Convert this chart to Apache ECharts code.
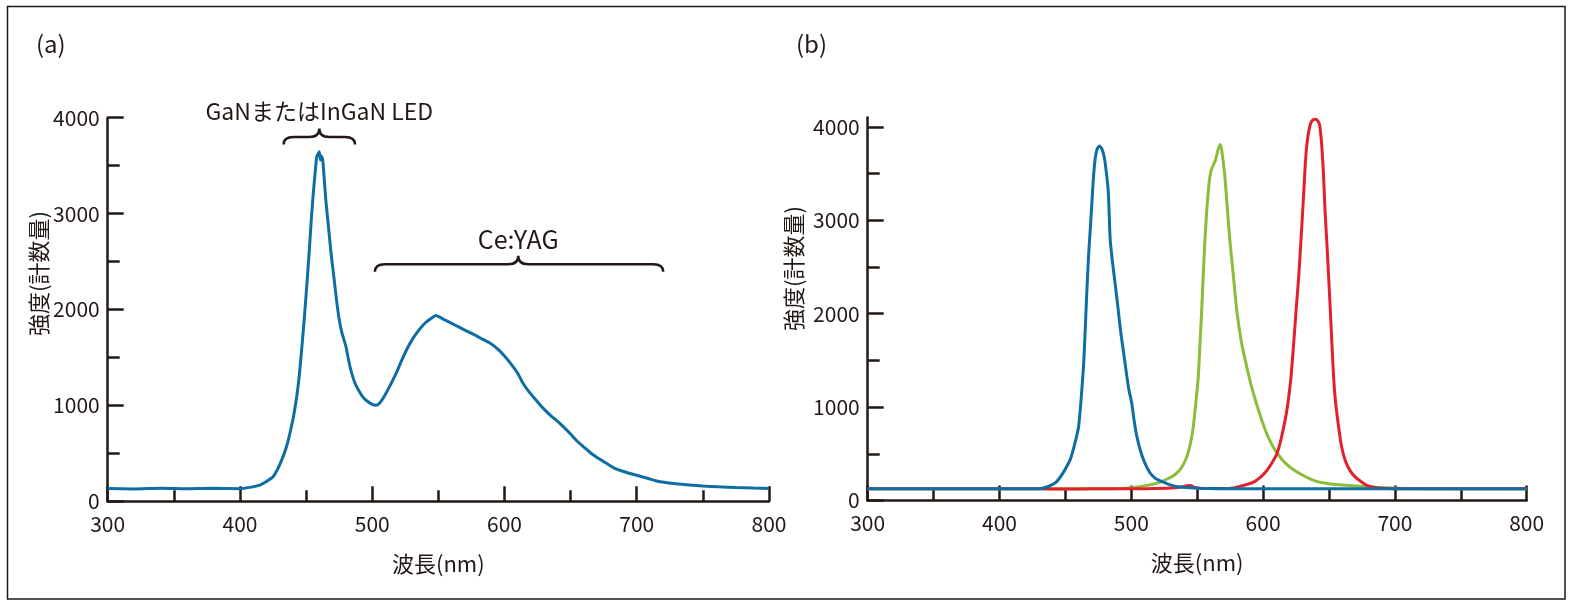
<!DOCTYPE html>
<html><head><meta charset="utf-8">
<script src="https://cdn.jsdelivr.net/npm/echarts@6/dist/echarts.min.js"></script>
<style>html,body{margin:0;padding:0;background:#fff;}#c{width:1572px;height:608px;}</style>
</head><body><div id="c"></div>
<script>
const INK = '#231815';
const FONT = '"Noto Sans CJK JP", "Noto Sans", sans-serif';

// (a) white LED (GaN/InGaN + Ce:YAG)
const waveA = [300,320,340,360,380,400,410,415,420,425,430,435,440,443,445,448,450,452,454,455.5,457,458,459,460,460.8,461.5,462.5,463.5,465,467,469,471,473,475,477,480,482,484,487,490,493,496,500,503,506,510,514,518,522,526,530,534,538,541,545,548,551,555,560,565,570,576,582,589,595,600,605,610,614,618,622,626,631,636,640,645,650,655,660,665,670,677,683,690,700,708,715,728,740,750,762,775,788,800];
const countA = [132,128,135,130,134,130,150,167,205,255,380,560,850,1100,1330,1800,2150,2530,2950,3220,3450,3590,3620,3645,3560,3600,3570,3400,3130,2850,2570,2340,2100,1900,1760,1620,1480,1360,1230,1150,1085,1045,1010,1000,1030,1115,1220,1330,1460,1580,1680,1760,1830,1870,1910,1938,1920,1890,1855,1820,1785,1745,1700,1650,1585,1515,1430,1335,1230,1150,1085,1020,945,880,835,770,700,625,565,505,455,395,345,310,270,240,211,184,170,159,150,143,137,132];

// (b) blue / green / red LEDs
const waveBlue = [300,350,400,425,431,437,443,448,452,454,457,460,462,464,466,467.5,469.3,471,472.5,474,475.8,477.5,479.4,481,482.6,484,486,488,490,492,494,496,498,500.4,502,504,507,510,514,518,522,528,534,542,552,580,650,800];
const countBlue = [125,125,125,125,127,150,196,290,390,450,600,790,1100,1500,2150,2600,3000,3400,3650,3760,3794,3770,3680,3520,3290,2790,2520,2290,2050,1800,1600,1393,1200,1036,870,700,530,410,300,240,210,175,150,138,130,125,125,125];

const waveGreen = [300,480,495,505,515,522,528,534,538,542,545,547,549,550.8,552,553.4,554.7,556,557.5,559.2,560.5,562.2,564,565.5,567.3,568.5,569.8,571,573,575,577.5,580,583.5,587.6,591,595,600,605,610,615,621,628,636,643,655,666,680,691,710,800];
const countGreen = [125,125,132,145,170,196,235,286,350,464,620,786,1050,1322,1650,2036,2450,2822,3150,3420,3530,3590,3650,3740,3812,3760,3620,3465,3100,2750,2400,2036,1700,1429,1230,1036,820,643,520,429,350,286,230,196,172,161,145,136,128,125];

const waveRed = [300,430,450,470,490,510,530,538,542,545,548,555,570,577.5,585,592.8,598,602.9,607,610.5,614,618,621,623.2,625,627,629,630.8,632,633.3,635,636.5,638,639.6,641.5,643,644.5,645.9,647,648.4,649.7,651,652.2,653.5,655,657.3,659.5,662.3,666,670,675,678.7,685,691,705,800];
const countRed = [125,125,122,125,125,127,133,145,158,160,140,128,128,135,160,196,250,321,410,500,680,964,1300,1680,2030,2393,2850,3287,3600,3823,3980,4050,4075,4080,4065,4010,3800,3465,3100,2751,2400,2036,1680,1322,1050,786,580,429,320,250,195,161,140,132,126,125];

const xTicks = [300,400,500,600,700,800];
const yTicks = [0,1000,2000,3000,4000];
const yMinorTicks = [500,1500,2500,3500];
const panelLabels = ['(a)','(b)'];
const xName = '波長(nm)';
const yName = '強度(計数量)';
const braces = [
  {from:433, to:487, tip:460, level:3800, textLevel:4062, text:'GaNまたはInGaN LED'},
  {from:502, to:720, tip:610.4, level:2471, textLevel:2731, text:'Ce:YAG'}
];
const braceFontSize = [23, 25];

const zip = (xs, ys) => xs.map((x, i) => [x, ys[i]]);
const colors = {a:'#0e6ea4', blue:'#0e6ea4', green:'#8abd3b', red:'#e3202a'};
const plain = v => String(v);

const tickStyle = {color: INK, width: 2.5};
function xAxisCfg(gi) {
  return {
    gridIndex: gi, type:'value', min:300, max:800, interval:100,
    axisLine:{show:true, onZero:false, lineStyle:{color:INK, width:2.5}},
    axisTick:{show:true, inside:true, length:15, lineStyle:tickStyle},
    minorTick:{show:true, splitNumber:2, length:11, lineStyle:tickStyle},
    splitLine:{show:false}, minorSplitLine:{show:false},
    axisLabel:{color:INK, fontSize:21, fontFamily:FONT, margin:12, formatter:plain,
      customValues: xTicks},
    name:xName, nameLocation:'middle', nameGap:51,
    nameTextStyle:{color:INK, fontSize:22, fontFamily:FONT}
  };
}
const labelStyle = {color:INK, fontSize:21, fontFamily:FONT, margin:8, formatter:plain};

const option = {
  animation:false,
  backgroundColor:'#fff',
  title: [
    {text:panelLabels[0], left:36, top:32, padding:0, textStyle:{fontSize:24, fontWeight:'normal', color:INK, fontFamily:FONT}},
    {text:panelLabels[1], left:796, top:32, padding:0, textStyle:{fontSize:24, fontWeight:'normal', color:INK, fontFamily:FONT}}
  ],
  graphic: [{type:'rect', shape:{x:7.5, y:6.5, width:1557.5, height:592.5}, style:{fill:'none', stroke:INK, lineWidth:1.5}, silent:true}],
  grid: [
    {left:107.7, top:117.7, width:661.3, height:383.5},
    {left:867.7, top:117.5, width:659, height:383}
  ],
  xAxis: [xAxisCfg(0), xAxisCfg(1)],
  yAxis: [
    {gridIndex:0, type:'value', min:0, max:4000, interval:1000, position:'left',
     axisLine:{show:true, onZero:false, lineStyle:{color:INK, width:2.5}},
     axisTick:{show:true, inside:true, length:16, lineStyle:tickStyle},
     minorTick:{show:true, splitNumber:2, length:12, lineStyle:tickStyle},
     splitLine:{show:false}, minorSplitLine:{show:false},
     axisLabel:labelStyle,
     name:yName, nameLocation:'middle', nameRotate:90, nameGap:57,
     nameTextStyle:{color:INK, fontSize:22, fontFamily:FONT, padding:[0,0,0,72]}},
    {gridIndex:1, type:'value', min:0, max:4100, interval:500, position:'left',
     axisLine:{show:true, onZero:false, lineStyle:{color:INK, width:2.5}},
     axisTick:{show:true, inside:true, length:12, lineStyle:tickStyle, customValues:yMinorTicks},
     splitLine:{show:false}, axisLabel:{show:false}},
    {gridIndex:1, type:'value', min:0, max:4100, interval:500, position:'left',
     axisLine:{show:false},
     axisTick:{show:true, inside:true, length:16, lineStyle:tickStyle, customValues:yTicks},
     splitLine:{show:false},
     axisLabel:Object.assign({customValues:yTicks}, labelStyle),
     name:yName, nameLocation:'middle', nameRotate:90, nameGap:63,
     nameTextStyle:{color:INK, fontSize:22, fontFamily:FONT, padding:[0,0,0,81]}}
  ],
  series: [
    {type:'line', xAxisIndex:0, yAxisIndex:0, data:zip(waveA, countA), showSymbol:false, smooth:0.2,
     lineStyle:{color:colors.a, width:3}, itemStyle:{color:colors.a}, z:3},
    {type:'line', xAxisIndex:1, yAxisIndex:1, data:zip(waveGreen, countGreen), showSymbol:false, smooth:0.2,
     lineStyle:{color:colors.green, width:3}, itemStyle:{color:colors.green}, z:3},
    {type:'line', xAxisIndex:1, yAxisIndex:1, data:zip(waveRed, countRed), showSymbol:false, smooth:0.2,
     lineStyle:{color:colors.red, width:3}, itemStyle:{color:colors.red}, z:4},
    {type:'line', xAxisIndex:1, yAxisIndex:1, data:zip(waveBlue, countBlue), showSymbol:false, smooth:0.2,
     lineStyle:{color:colors.blue, width:3}, itemStyle:{color:colors.blue}, z:5},
    {type:'custom', xAxisIndex:0, yAxisIndex:0, clip:false, silent:true,
     encode:{x:[0,1,2], y:[3,4]},
     data: braces.map(b => [b.from, b.to, b.tip, b.level, b.textLevel]),
     renderItem: function(params, api) {
       const b = braces[params.dataIndex];
       const p1 = api.coord([api.value(0), api.value(3)]);
       const p2 = api.coord([api.value(1), api.value(3)]);
       const pm = api.coord([api.value(2), api.value(3)]);
       const pt = api.coord([api.value(2), api.value(4)]);
       const y = p1[1], x1 = p1[0], x2 = p2[0], xm = pm[0];
       const d = 7.5, h = 8.5, r = 10;
       const path = 'M' + x1 + ' ' + (y + d) + ' Q' + x1 + ' ' + y + ' ' + (x1 + r) + ' ' + y +
         ' L' + (xm - r) + ' ' + y + ' Q' + xm + ' ' + y + ' ' + xm + ' ' + (y - h) +
         ' Q' + xm + ' ' + y + ' ' + (xm + r) + ' ' + y +
         ' L' + (x2 - r) + ' ' + y + ' Q' + x2 + ' ' + y + ' ' + x2 + ' ' + (y + d);
       return {type:'group', children:[
         {type:'path', shape:{pathData:path}, style:{fill:'none', stroke:INK, lineWidth:2.5}},
         {type:'text', style:{text:b.text, x:pt[0], y:pt[1], align:'center', verticalAlign:'middle',
           fontSize:braceFontSize[params.dataIndex], fontFamily:FONT, fill:INK}}
       ]};
     }}
  ]
};
const chart = echarts.init(document.getElementById('c'), null, {renderer:'canvas'});
chart.setOption(option);
</script></body></html>
